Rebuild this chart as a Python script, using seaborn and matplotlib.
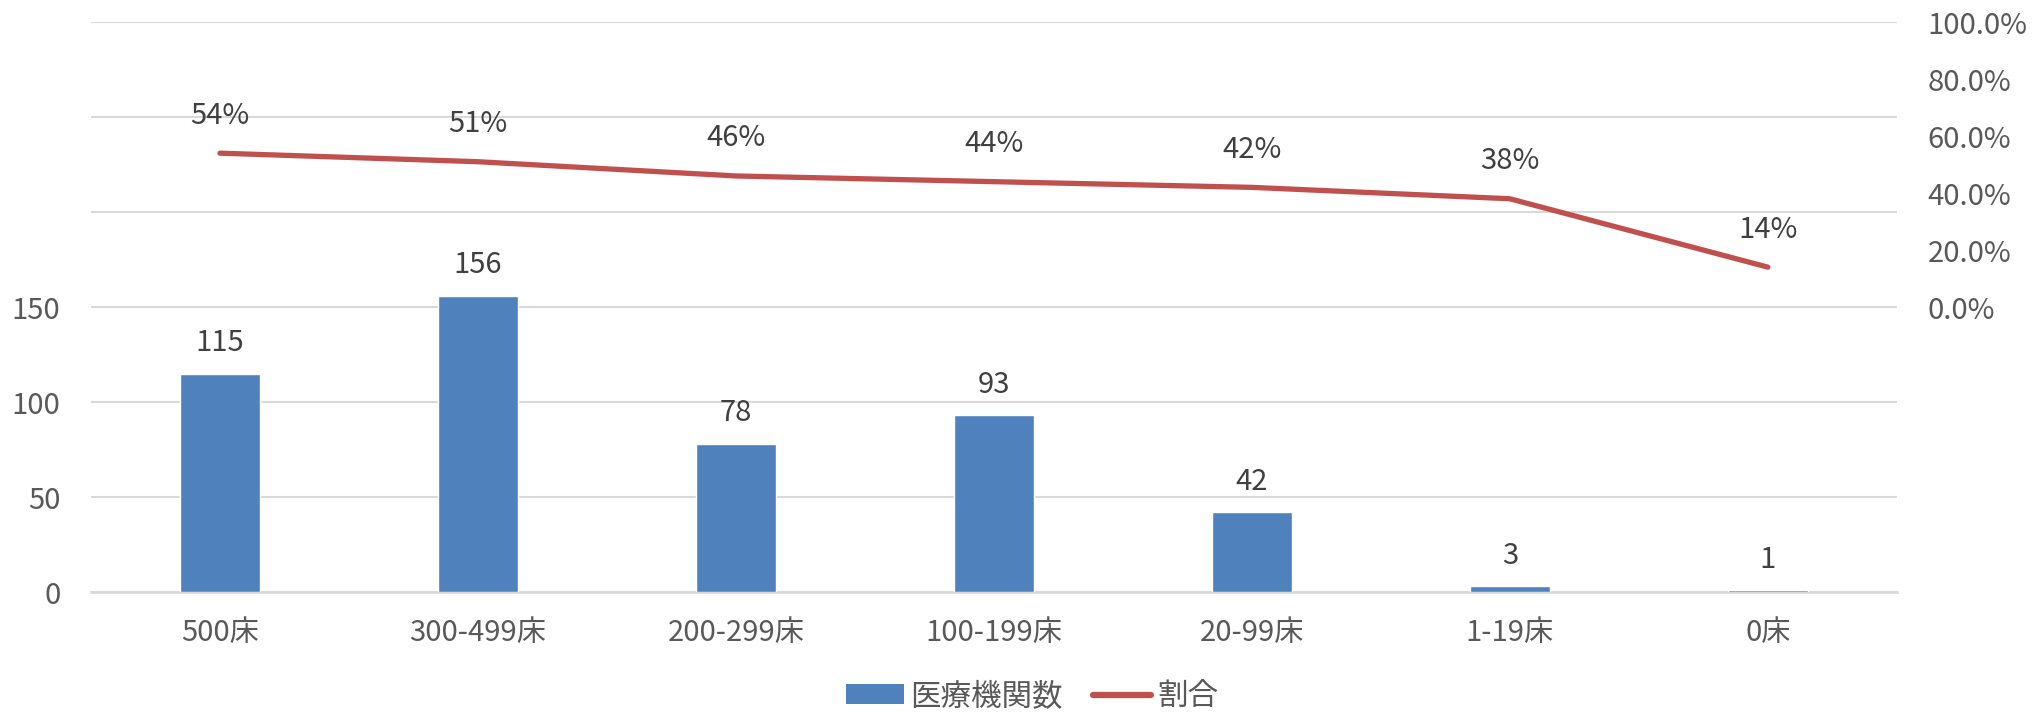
import matplotlib
matplotlib.use('Agg')
import matplotlib.pyplot as plt
import seaborn as sns
from matplotlib.patches import Patch
from matplotlib.lines import Line2D
from matplotlib.ticker import FuncFormatter, MultipleLocator

# data
categories = ['500床', '300-499床', '200-299床', '100-199床', '20-99床', '1-19床', '0床']
counts = [115, 156, 78, 93, 42, 3, 1]
ratios = [0.54, 0.51, 0.46, 0.44, 0.42, 0.38, 0.14]
ratio_labels = ['54%', '51%', '46%', '44%', '42%', '38%', '14%']
bar_name = '医療機関数'
line_name = '割合'

bar_color = '#4F81BD'
line_color = '#C0504D'
grid_color = '#D9D9D9'
tick_color = '#595959'
label_color = '#404040'

sns.set_style('white')
plt.rcParams['font.family'] = ['Noto Sans CJK JP', 'DejaVu Sans']
fs = 21

fig = plt.figure(figsize=(20.44, 7.12), dpi=100)
ax = fig.add_axes([0.0445, 0.1685, 0.8835, 0.8005])

sns.barplot(x=categories, y=counts, ax=ax, color=bar_color, saturation=1,
            width=0.31, zorder=3)
ax.set_ylim(0, 300)
ax.yaxis.set_major_locator(MultipleLocator(50))
ax.yaxis.set_major_formatter(FuncFormatter(lambda v, p: f'{v:.0f}' if v <= 150 else ''))
ax.grid(axis='y', color=grid_color, linewidth=1.5, zorder=0)
ax.grid(axis='x', visible=False)
for s in ['top', 'right', 'left']:
    ax.spines[s].set_visible(False)
ax.spines['bottom'].set_color(grid_color)
ax.spines['bottom'].set_linewidth(2)
ax.tick_params(axis='both', length=0, labelsize=fs, labelcolor=tick_color)
ax.tick_params(axis='y', pad=22)
ax.tick_params(axis='x', pad=19)
ax.set_xlabel('')
ax.set_ylabel('')

for i, v in enumerate(counts):
    ax.annotate(str(v), (i, v), xytext=(0, 22), textcoords='offset points',
                ha='center', va='center', fontsize=fs, color=label_color)

ax2 = ax.twinx()
sns.pointplot(x=categories, y=ratios, ax=ax2, color=line_color, errorbar=None,
              marker='', linewidth=3.8, solid_capstyle='round')
ax2.set_ylim(-1, 1)
ax2.set_yticks([0, 0.2, 0.4, 0.6, 0.8, 1.0])
ax2.yaxis.set_major_formatter(FuncFormatter(lambda v, p: f'{v * 100:.1f}%'))
ax2.tick_params(axis='y', length=0, labelsize=fs, labelcolor=tick_color, pad=22)
ax2.grid(False)
for s in ax2.spines.values():
    s.set_visible(False)
ax2.set_xlabel('')
ax2.set_ylabel('')

for i, (v, t) in enumerate(zip(ratios, ratio_labels)):
    ax2.annotate(t, (i, v), xytext=(0, 27), textcoords='offset points',
                 ha='center', va='center', fontsize=fs, color=label_color)

handles = [Patch(facecolor=bar_color, edgecolor='none'),
           Line2D([0], [0], color=line_color, linewidth=4.5, solid_capstyle='round')]
fig.legend(handles, [bar_name, line_name], loc='center',
           bbox_to_anchor=(0.505, 0.022), ncol=2, frameon=False, fontsize=22,
           labelcolor=tick_color, handlelength=1.9, handleheight=0.6,
           handletextpad=0.2, columnspacing=1.0)

fig.savefig('out.png', dpi=100)
